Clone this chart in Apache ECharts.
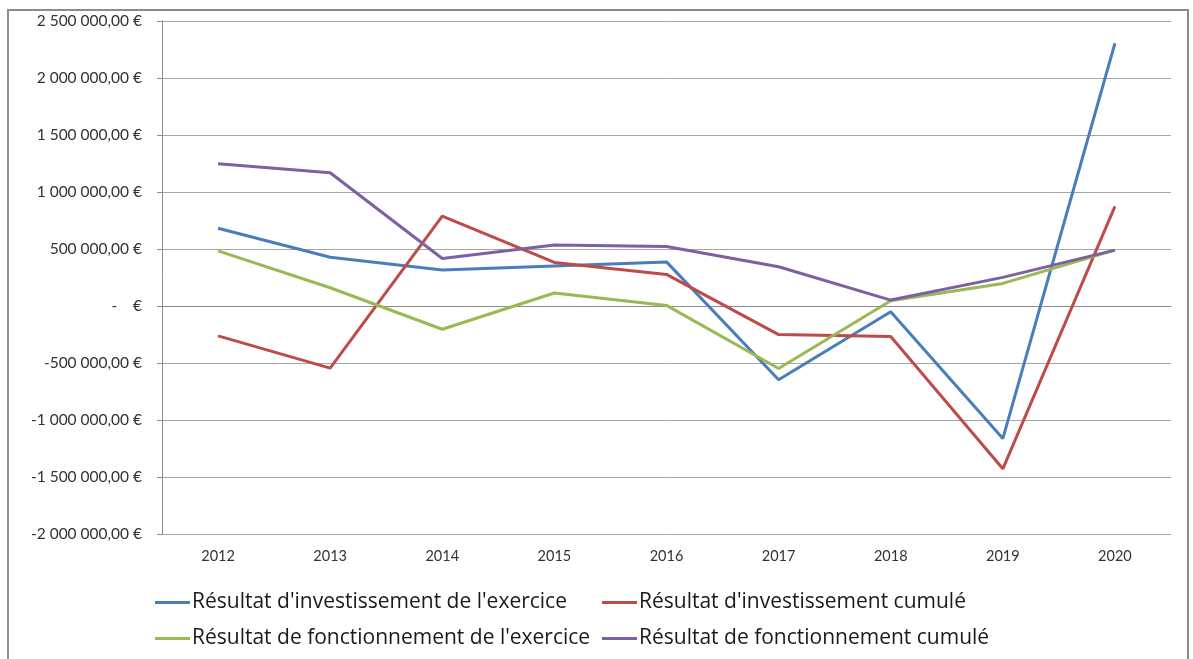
<!DOCTYPE html>
<html>
<head>
<meta charset="utf-8">
<script src="https://cdn.jsdelivr.net/npm/echarts@6/dist/echarts.min.js"></script>
<style>
  html, body { margin: 0; padding: 0; background: #fff; }
  #frame { position: absolute; left: 7px; top: 9px; width: 1178px; height: 660px; border: 2px solid #8c8c8c; border-bottom: none; }
  #chart { position: absolute; left: 0; top: 0; width: 1193px; height: 659px; }
</style>
</head>
<body>
<div id="frame"></div>
<div id="chart"></div>
<script>
// Années
const years = ["2012", "2013", "2014", "2015", "2016", "2017", "2018", "2019", "2020"];

// Séries (en €)
const investExercice = [682000, 428000, 315000, 350000, 387000, -647000, -50000, -1163000, 2305000];
const investCumule = [-262000, -545000, 788000, 382000, 277000, -251000, -268000, -1428000, 874000];
const fonctExercice = [483000, 160000, -204000, 114000, 5000, -548000, 46000, 198000, 490000];
const fonctCumule = [1247000, 1169000, 417000, 536000, 522000, 344000, 52000, 251000, 490000];

const seriesNames = [
  "Résultat d'investissement de l'exercice",
  "Résultat d'investissement cumulé",
  "Résultat de fonctionnement de l'exercice",
  "Résultat de fonctionnement cumulé",
];
const colors = ["#4a7ebb", "#be4b48", "#98b954", "#7d60a0"];

const FONT = "Lato, 'Open Sans', sans-serif";
const LEGEND_FONT = "'Open Sans', Lato, sans-serif";

function formatEuro(v) {
  if (v === 0) return "-    €";
  const neg = v < 0;
  const s = Math.abs(v).toString().replace(/\B(?=(\d{3})+(?!\d))/g, " ");
  return (neg ? "-" : "") + s + ",00 €";
}

const chart = echarts.init(document.getElementById("chart"));

// une légende par entrée pour caler les colonnes comme dans l'original
const legendPos = [
  { left: 150, top: 587 },
  { left: 597, top: 587 },
  { left: 150, top: 623 },
  { left: 597, top: 623 },
];

const option = {
  animation: false,
  backgroundColor: "transparent",
  color: colors,
  grid: { left: 162, right: 22, top: 21, bottom: 125, containLabel: false },
  legend: seriesNames.map((name, i) => ({
    data: [name],
    left: legendPos[i].left,
    top: legendPos[i].top,
    icon: "rect",
    itemWidth: 35,
    itemHeight: 3,
    itemGap: 4,
    textStyle: { color: "#1a1a1a", fontSize: 21, fontFamily: LEGEND_FONT, padding: [0, 0, 0, -3] },
  })),
  xAxis: {
    type: "category",
    data: years,
    boundaryGap: true,
    axisLine: { lineStyle: { color: "#8c8c8c", width: 1 } },
    axisTick: { show: false },
    axisLabel: { color: "#333", fontSize: 14.5, fontFamily: FONT, margin: 15 },
  },
  yAxis: {
    type: "value",
    min: -2000000,
    max: 2500000,
    interval: 500000,
    axisLine: { show: true, lineStyle: { color: "#8c8c8c", width: 1 } },
    axisTick: { show: true, length: 5, lineStyle: { color: "#8c8c8c" } },
    axisLabel: { color: "#333", fontSize: 15.5, fontFamily: FONT, margin: 20, formatter: formatEuro },
    splitLine: { lineStyle: { color: "#a6a6a6", width: 1 } },
  },
  series: [investExercice, investCumule, fonctExercice, fonctCumule].map((d, i) => ({
    name: seriesNames[i],
    type: "line",
    data: d,
    symbol: "none",
    lineStyle: { width: 3, color: colors[i] },
    itemStyle: { color: colors[i] },
    z: 2 + i,
  })),
};

chart.setOption(option);
</script>
</body>
</html>
